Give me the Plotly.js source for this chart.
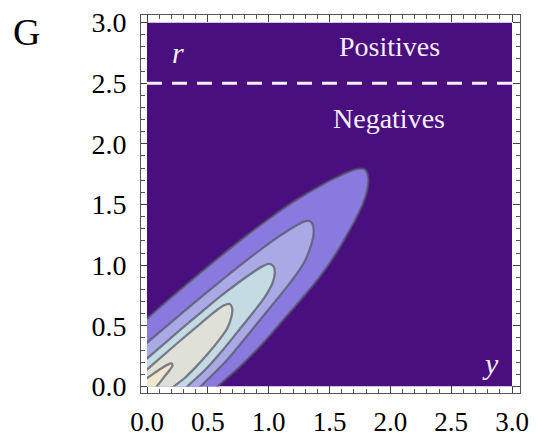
<!DOCTYPE html>
<html>
<head>
<meta charset="utf-8">
<script src="https://cdn.plot.ly/plotly-3.0.1.min.js"></script>
<style>
  html, body { margin: 0; padding: 0; background: #fff; }
  #chart { width: 537px; height: 437px; }
</style>
</head>
<body>
<div id="chart"></div>
<script>
// Contour boundaries of the density over (y, r), each running from the r-axis
// along the upper side, round the tip and back down to the y-axis.
const level1X = [0, 0.2, 0.4, 0.6, 0.8, 1.0, 1.2, 1.4, 1.55, 1.67, 1.75, 1.79, 1.81, 1.82, 1.81, 1.78, 1.73, 1.66, 1.58, 1.49, 1.37, 1.23, 1.09, 0.95, 0.77, 0.58];
const level1Y = [0.56, 0.735, 0.905, 1.07, 1.23, 1.38, 1.52, 1.64, 1.72, 1.775, 1.795, 1.79, 1.76, 1.70, 1.62, 1.52, 1.41, 1.28, 1.14, 1.0, 0.84, 0.675, 0.515, 0.355, 0.17, 0];

const level2X = [0, 0.2, 0.4, 0.6, 0.8, 0.95, 1.09, 1.2, 1.28, 1.33, 1.36, 1.37, 1.35, 1.29, 1.18, 1.06, 0.93, 0.80, 0.65, 0.44];
const level2Y = [0.36, 0.53, 0.70, 0.865, 1.025, 1.14, 1.24, 1.31, 1.355, 1.365, 1.34, 1.27, 1.17, 1.02, 0.86, 0.71, 0.55, 0.39, 0.21, 0];

const level3X = [0, 0.15, 0.3, 0.45, 0.6, 0.75, 0.87, 0.95, 1.0, 1.04, 1.05, 1.03, 0.97, 0.88, 0.76, 0.63, 0.48, 0.33];
const level3Y = [0.23, 0.36, 0.49, 0.615, 0.74, 0.855, 0.94, 0.99, 1.01, 0.99, 0.93, 0.85, 0.74, 0.62, 0.47, 0.31, 0.14, 0];

const level4X = [0, 0.12, 0.27, 0.4, 0.5, 0.58, 0.64, 0.68, 0.70, 0.695, 0.66, 0.59, 0.5, 0.4, 0.31, 0.22];
const level4Y = [0.14, 0.245, 0.375, 0.485, 0.57, 0.635, 0.672, 0.68, 0.645, 0.58, 0.48, 0.38, 0.27, 0.16, 0.07, 0];

const level5X = [0, 0.06, 0.12, 0.17, 0.2, 0.21, 0.19, 0.15, 0.115, 0.08];
const level5Y = [0.07, 0.11, 0.15, 0.18, 0.19, 0.175, 0.14, 0.09, 0.045, 0];

const tickValues = [0, 0.5, 1, 1.5, 2, 2.5, 3];
const tickLabels = ["0.0", "0.5", "1.0", "1.5", "2.0", "2.5", "3.0"];
const thresholdR = 2.5;

const levels = [
  {x: level1X, y: level1Y, color: "#8a7adf"},
  {x: level2X, y: level2Y, color: "#a9a9e6"},
  {x: level3X, y: level3Y, color: "#c4dbe4"},
  {x: level4X, y: level4Y, color: "#dfe0d8"},
  {x: level5X, y: level5Y, color: "#f1e6cf"}
];

const bgPurple = "#4a0f7e";
const serif = "Liberation Serif, Times New Roman, serif";

// Each region is closed through points outside the visible square: the two ends
// of the boundary are carried straight on past the edges and joined round a far
// corner, so the clipped plot shows only the curved boundary.
function closedPath(xs, ys) {
  const n = xs.length;
  const off = 0.3;
  const ks = off / Math.max(1e-6, xs[1] - xs[0]);
  const startX = xs[0] - (xs[1] - xs[0]) * ks;
  const startY = ys[0] - (ys[1] - ys[0]) * ks;
  const ke = off / Math.max(1e-6, ys[n - 2] - ys[n - 1]);
  const endX = xs[n - 1] + (xs[n - 1] - xs[n - 2]) * ke;
  const endY = ys[n - 1] + (ys[n - 1] - ys[n - 2]) * ke;
  return {
    x: [startX].concat(xs, [endX, -0.6, -0.6]),
    y: [startY].concat(ys, [endY, -0.6, startY])
  };
}

const traces = [
  // carries the framed axes
  {type: "scatter", mode: "markers", x: [], y: [], xaxis: "x", yaxis: "y",
   hoverinfo: "skip", showlegend: false}
].concat(levels.map(lv => {
  const p = closedPath(lv.x, lv.y);
  return {
    type: "scatter",
    mode: "lines",
    xaxis: "x2", yaxis: "y2",
    x: p.x, y: p.y,
    fill: "toself",
    fillcolor: lv.color,
    line: {color: "rgba(85,85,100,0.72)", width: 2.3, shape: "spline", smoothing: 0.9},
    hoverinfo: "skip",
    showlegend: false
  };
}));

const W = 537, H = 437;
const frame = {l: 141, r: 520, t: 15, b: 393};
const inner = {l: 147, r: 512, t: 22.5, b: 386.5};
const pxPerX = (inner.r - inner.l) / 3;
const pxPerY = (inner.b - inner.t) / 3;
const fw = frame.r - frame.l, fh = frame.b - frame.t;

const axisCommon = {
  showgrid: false, zeroline: false,
  showline: true, linecolor: "#555", linewidth: 1, mirror: "ticks",
  ticks: "inside", ticklen: 7, tickwidth: 1, tickcolor: "#444",
  tickvals: tickValues, ticktext: tickLabels,
  tickfont: {family: serif, size: 28, color: "#000"},
  minor: {ticks: "inside", ticklen: 4, tickwidth: 1, tickcolor: "#555", dtick: 0.1, tick0: 0, showgrid: false},
  fixedrange: true
};

const layout = {
  width: W, height: H,
  margin: {l: frame.l, r: W - frame.r, t: frame.t, b: H - frame.b, pad: 0},
  paper_bgcolor: "#fff",
  plot_bgcolor: "rgba(0,0,0,0)",
  showlegend: false,
  xaxis: Object.assign({}, axisCommon, {
    domain: [0, 1], anchor: "y",
    range: [-(inner.l - frame.l) / pxPerX, 3 + (frame.r - inner.r) / pxPerX],
    tickfont: {family: serif, size: 27, color: "#000"},
    ticklabelstandoff: 5
  }),
  yaxis: Object.assign({}, axisCommon, {
    domain: [0, 1], anchor: "x",
    range: [-(frame.b - inner.b) / pxPerY, 3 + (inner.t - frame.t) / pxPerY],
    ticklabelstandoff: 8
  }),
  xaxis2: {
    domain: [(inner.l - frame.l) / fw, (inner.r - frame.l) / fw],
    range: [0, 3], visible: false, anchor: "y2", fixedrange: true
  },
  yaxis2: {
    domain: [(frame.b - inner.b) / fh, (frame.b - inner.t) / fh],
    range: [0, 3], visible: false, anchor: "x2", fixedrange: true
  },
  shapes: [
    {type: "rect", xref: "x2", yref: "y2", x0: 0, x1: 3, y0: 0, y1: 3,
     fillcolor: bgPurple, line: {width: 0}, layer: "below"},
    {type: "line", xref: "x2", yref: "y2", x0: 0, x1: 3, y0: thresholdR, y1: thresholdR,
     line: {color: "#f4f0ff", width: 3, dash: "15px,10px"}, layer: "above"}
  ],
  annotations: [
    {text: "G", xref: "paper", yref: "paper", x: (27 - frame.l) / fw, y: (frame.b - 32) / fh,
     xanchor: "center", yanchor: "middle",
     showarrow: false, font: {family: serif, size: 38, color: "#000"}},
    {text: "Positives", xref: "x2", yref: "y2", x: 1.99, y: 2.8, showarrow: false,
     xanchor: "center", yanchor: "middle",
     font: {family: serif, size: 28, color: "#f2eeff"}},
    {text: "Negatives", xref: "x2", yref: "y2", x: 1.99, y: 2.21, showarrow: false,
     xanchor: "center", yanchor: "middle",
     font: {family: serif, size: 28, color: "#f2eeff"}},
    {text: "<i>r</i>", xref: "x2", yref: "y2", x: 0.255, y: 2.75, showarrow: false,
     xanchor: "center", yanchor: "middle",
     font: {family: serif, size: 30, color: "#f2eeff"}},
    {text: "<i>y</i>", xref: "x2", yref: "y2", x: 2.82, y: 0.19, showarrow: false,
     xanchor: "center", yanchor: "middle",
     font: {family: serif, size: 30, color: "#f2eeff"}}
  ]
};

Plotly.newPlot("chart", traces, layout, {staticPlot: true, displayModeBar: false});
</script>
</body>
</html>
